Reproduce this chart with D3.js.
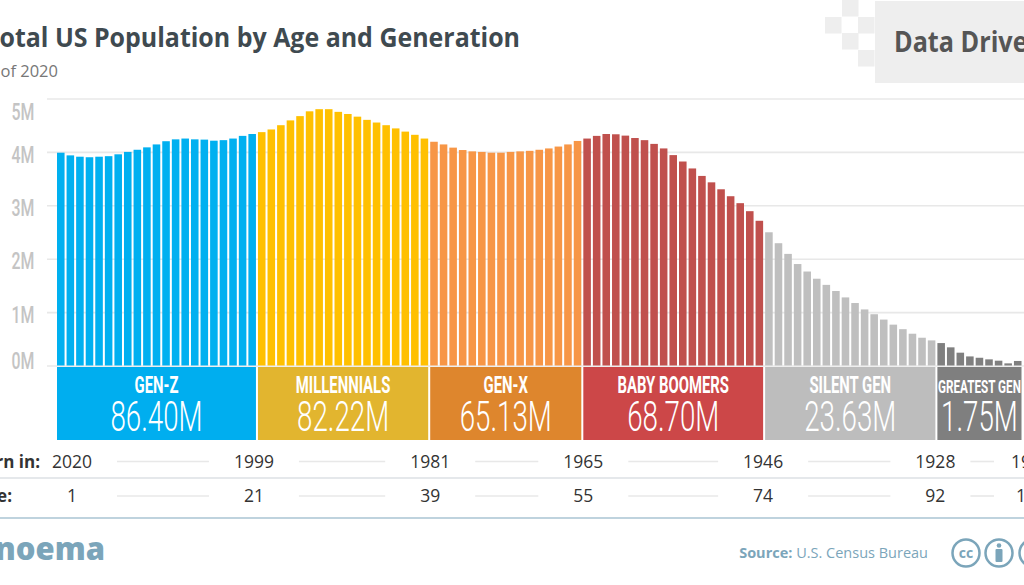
<!DOCTYPE html>
<html><head><meta charset="utf-8">
<script src="https://cdn.jsdelivr.net/npm/d3@7/dist/d3.min.js"></script>
<style>html,body{margin:0;padding:0;background:#fff;overflow:hidden}svg{display:block}</style>
</head><body><svg id="c" width="1024" height="585"></svg>
<script>
const genZ=[3.985,3.935,3.91,3.90,3.91,3.92,3.955,4.0,4.04,4.085,4.14,4.2,4.235,4.25,4.235,4.23,4.21,4.22,4.25,4.3,4.335];
const millennials=[4.37,4.42,4.50,4.59,4.67,4.76,4.80,4.80,4.75,4.71,4.66,4.60,4.55,4.50,4.44,4.38,4.32,4.25];
const genX=[4.19,4.14,4.08,4.035,4.01,4.0,3.985,3.985,4.0,4.01,4.02,4.04,4.065,4.10,4.14,4.205];
const boomers=[4.25,4.30,4.335,4.33,4.305,4.26,4.22,4.15,4.065,3.94,3.82,3.69,3.55,3.43,3.30,3.17,3.04,2.89,2.71];
const silent=[2.495,2.29,2.09,1.90,1.76,1.625,1.51,1.395,1.275,1.17,1.05,0.96,0.86,0.765,0.68,0.595,0.52,0.47];
const greatest=[0.42,0.34,0.24,0.17,0.145,0.115,0.09,0.04,0.085];
const series=[genZ,millennials,genX,boomers,silent,greatest];
const genNames=["GEN-Z","MILLENNIALS","GEN-X","BABY BOOMERS","SILENT GEN","GREATEST GEN"];
const genTotals=["86.40M","82.22M","65.13M","68.70M","23.63M","1.75M"];
const barColors=["#00B0F0","#FFC000","#F79646","#C0504D","#BFBFBF","#7F7F7F"];
const boxColors=["#00AEEF","#E2B52F","#DE862D","#CC4748","#BDBDBD","#7F7F7F"];
const bornYears=["2020","1999","1981","1965","1946","1928","1919"];
const ages=["1","21","39","55","74","92","101"];
const yTicks=[0,1,2,3,4,5];

const svg=d3.select("#c");
const FONT="'Open Sans',sans-serif", COND="Roboto,sans-serif", TEAL="#7BA5BA";
const flat=series.flat();
const x=d3.scaleBand().domain(d3.range(flat.length)).range([57,1021.5]).paddingInner(0.21).paddingOuter(0);
const y=d3.scaleLinear().domain([0,5]).range([365.5,98.5]);

function cond(g,str,cx,by,size,sx,fill,weight){
  return g.append("text").attr("transform",`translate(${cx},${by}) scale(${sx},1)`)
   .attr("text-anchor","middle").attr("font-family",COND).attr("font-size",size)
   .attr("font-weight",weight).attr("fill",fill).text(str);
}

// header tab
const tab=svg.append("g").attr("fill","#EEEEEE");
tab.append("rect").attr("x",875).attr("y",1).attr("width",149).attr("height",82);
[[842,0],[825,17],[858,17],[842,33],[858,50]].forEach(p=>tab.append("rect").attr("x",p[0]).attr("y",p[1]).attr("width",16.5).attr("height",16.5));
svg.append("text").attr("transform","translate(894,52) scale(0.9,1)").attr("font-family",FONT).attr("font-weight",700)
  .attr("font-size",28).attr("fill","#555").text("Data Driven");

// title
svg.append("text").attr("x",520).attr("y",47).attr("text-anchor","end").attr("font-family",FONT).attr("font-weight",700)
  .attr("font-size",26.5).attr("fill","#3F4A50").attr("textLength",535).attr("lengthAdjust","spacingAndGlyphs")
  .text("Total US Population by Age and Generation");
svg.append("text").attr("x",58).attr("y",77).attr("text-anchor","end").attr("font-family",FONT)
  .attr("font-size",16.5).attr("fill","#777").text("As of 2020");

// y axis + gridlines
const axis=d3.axisLeft(y).tickValues(yTicks).tickSize(-977).tickPadding(0).tickFormat(d=>d+"M");
const ax=svg.append("g").attr("transform","translate(47,0)").call(axis);
ax.select(".domain").remove();
ax.selectAll(".tick line").attr("x1",0).attr("x2",977).attr("stroke","#E8E8E8").attr("stroke-width",1.6);
const labelCentre={5:110.7,4:154,3:207,2:260,1:314,0:360};
ax.selectAll(".tick text").each(function(d){
  const t=d3.select(this), yT=y(d);
  t.attr("x",null).attr("dy",null).attr("text-anchor","middle").attr("font-family",COND).attr("font-size",24)
   .attr("font-weight",500).attr("fill","#C4C4C4")
   .attr("transform",`translate(-24,${labelCentre[d]-yT+8.5}) scale(0.66,1)`);
});

// bars
let off=0; const spans=[];
series.forEach((vals,k)=>{
  const start=off;
  svg.append("g").selectAll("rect").data(vals).join("rect")
    .attr("x",(d,i)=>x(start+i)).attr("width",x.bandwidth())
    .attr("y",d=>y(d)).attr("height",d=>y(0)-y(d)).attr("fill",barColors[k]);
  off+=vals.length;
  spans.push([x(start),x(off-1)+x.bandwidth()]);
});

// generation boxes
const boxes=svg.append("g");
spans.forEach((s,k)=>{
  boxes.append("rect").attr("x",s[0]).attr("y",367).attr("width",s[1]-s[0]).attr("height",73).attr("fill",boxColors[k]);
  const cx=(s[0]+s[1])/2, last=k===5;
  cond(boxes,genNames[k],cx,393,last?18:24,last?0.65:0.62,"#fff",700);
  cond(boxes,genTotals[k],cx,431,42,0.66,"#fff",300);
});

// rows
const nudge=[-2,2,2,0,0];
const rowX=[72].concat(spans.slice(0,5).map((s,i)=>s[1]+nudge[i]),[1031]);
const rows=svg.append("g");
[[bornYears,467.5,461.5],[ages,502,496]].forEach(r=>{
  r[0].forEach((t,i)=>rows.append("text").attr("x",rowX[i]).attr("y",r[1]).attr("text-anchor","middle")
    .attr("font-family",FONT).attr("font-size",17.5).attr("fill","#333").text(t));
  d3.pairs(rowX).forEach((p,i)=>{
    const lastGap=i===5;
    rows.append("line").attr("x1",p[0]+(lastGap?35:45)).attr("x2",p[1]-(lastGap?37:45)).attr("y1",r[2]).attr("y2",r[2])
      .attr("stroke","#E8E8E8").attr("stroke-width",1.6);
  });
});
rows.append("text").attr("x",40).attr("y",467.5).attr("text-anchor","end").attr("font-family",FONT).attr("font-weight",700)
  .attr("font-size",17).attr("fill","#333").text("Born in:");
rows.append("text").attr("x",12).attr("y",502).attr("text-anchor","end").attr("font-family",FONT).attr("font-weight",700)
  .attr("font-size",17).attr("fill","#333").text("Age:");
rows.append("line").attr("x1",0).attr("x2",1024).attr("y1",478).attr("y2",478).attr("stroke","#DDE1E4").attr("stroke-width",1.5);
rows.append("line").attr("x1",0).attr("x2",1024).attr("y1",518).attr("y2",518).attr("stroke","#BFD3DE").attr("stroke-width",2);

// footer
svg.append("text").attr("x",105).attr("y",560).attr("text-anchor","end").attr("font-family",FONT).attr("font-weight",800)
  .attr("font-size",31).attr("fill",TEAL).text("noema");
const src=svg.append("text").attr("x",928).attr("y",558).attr("text-anchor","end").attr("font-family",FONT)
  .attr("font-size",14.5).attr("fill",TEAL);
src.append("tspan").attr("font-weight",700).text("Source: ");
src.append("tspan").text("U.S. Census Bureau");
[966,999,1033].forEach(cx=>{
  svg.append("circle").attr("cx",cx).attr("cy",553).attr("r",13.5).attr("fill","#fff").attr("stroke",TEAL).attr("stroke-width",2.5);
});
svg.append("text").attr("x",966).attr("y",558).attr("text-anchor","middle").attr("font-family",FONT).attr("font-weight",700)
  .attr("font-size",14).attr("fill",TEAL).text("cc");
svg.append("circle").attr("cx",999).attr("cy",545.5).attr("r",2.3).attr("fill",TEAL);
svg.append("rect").attr("x",995.5).attr("y",549).attr("width",7).attr("height",13).attr("rx",1).attr("fill",TEAL);
</script></body></html>
